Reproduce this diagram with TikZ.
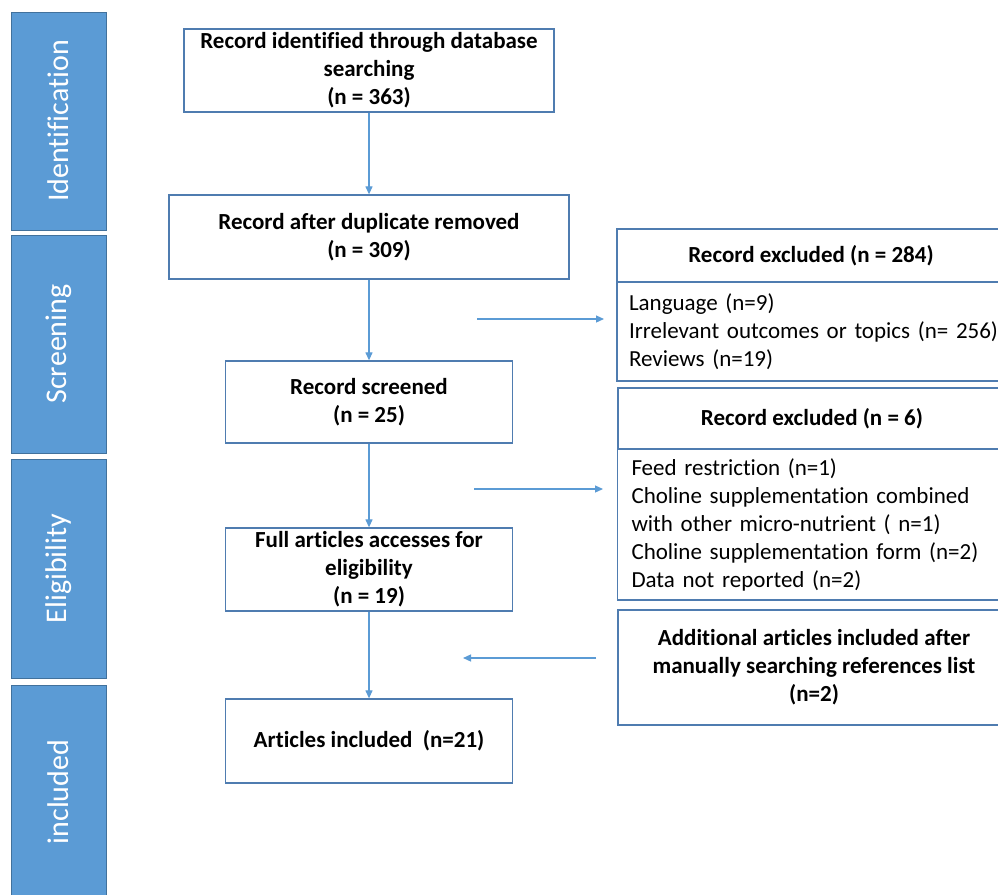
\documentclass[tikz,border=0pt]{standalone}
\usepackage{fontspec}
\setmainfont{Carlito}[RawFeature={-liga,-calt,-dlig,-clig}]
\usetikzlibrary{arrows.meta}
\definecolor{barblue}{HTML}{5B9BD5}
\definecolor{bardark}{HTML}{41719C}
\definecolor{boxline}{HTML}{4F7CB0}
\definecolor{arrowblue}{HTML}{5B9BD5}
\begin{document}
\begin{tikzpicture}[x=1pt,y=-1pt,
  phase/.style={draw=bardark, line width=0.8pt, fill=barblue},
  phaselabel/.style={text=white, font=\fontsize{30}{36}\selectfont, rotate=90, inner sep=0pt},
  flowbox/.style={draw=boxline, line width=1.3pt, align=center, font=\bfseries\fontsize{23}{28}\selectfont, inner sep=0pt},
  listbox/.style={draw=boxline, line width=1.3pt, align=left, font=\fontsize{23}{28}\selectfont, inner ysep=0pt},
  conn/.style={draw=arrowblue, line width=1.2pt, -{Triangle[length=8pt,width=7pt]}}
]
\useasboundingbox (0,0) rectangle (998,894);
\clip (0,0) rectangle (998,894);
\fill[white] (0,0) rectangle (998,894);

% phase bars
\path[phase] (11,12) rectangle (106,230);
\node[phaselabel] (lid) at (58.5,121) {Identification};
\path[phase] (11,235) rectangle (106,453);
\node[phaselabel] (lsc) at (58.5,344) {Screening};
\path[phase] (11,459) rectangle (106,678);
\node[phaselabel] (lel) at (58.5,568.5) {Eligibility};
\path[phase] (11,685) rectangle (106,900);
\node[phaselabel] (lin) at (58.5,792) {included};

% main flow
\node[flowbox, minimum width=370pt, minimum height=83pt] (b1) at (369,70.5)
  {Record identified through database\\searching\\(n = 363)};
\node[flowbox, minimum width=400pt, minimum height=84pt] (b2) at (369,237)
  {Record after duplicate removed\\(n = 309)};
\node[flowbox, minimum width=287pt, minimum height=82pt] (b3) at (369,402)
  {Record screened\\(n = 25)};
\node[flowbox, minimum width=287pt, minimum height=83pt] (b4) at (369,569.5)
  {Full articles accesses for\\eligibility\\(n = 19)};
\node[flowbox, minimum width=287pt, minimum height=84pt] (b5) at (369,741)
  {Articles included\ \ (n=21)};

% right side
\node[flowbox, minimum width=388pt, minimum height=53pt] (h1) at (811,255.5)
  {Record excluded (n = 284)};
\node[listbox, inner xsep=12pt, text width=379pt, minimum height=99pt] (l1) at (818.5,331.5)
  {Language (n=9)\\Irrelevant outcomes or topics (n= 256)\\Reviews (n=19)};
\node[flowbox, minimum width=388pt, minimum height=61pt] (h2) at (812,418.5)
  {Record excluded (n = 6)};
\node[listbox, inner xsep=14pt, text width=375pt, minimum height=151pt] (l2) at (819,524.5)
  {Feed restriction (n=1)\\Choline supplementation combined\\with other micro-nutrient ( n=1)\\Choline supplementation form (n=2)\\Data not reported (n=2)};
\node[flowbox, minimum width=392pt, minimum height=115pt] (ad) at (814,667.5)
  {Additional articles included after\\manually searching references list\\(n=2)};

% vertical connectors
\draw[conn] (b1.south) -- (b2.north);
\draw[conn] (b2.south) -- (b3.north);
\draw[conn] (b3.south) -- (b4.north);
\draw[conn] (b4.south) -- (b5.north);

% horizontal connectors
\coordinate (e1s) at (477,319);
\coordinate (e1e) at (604,319);
\coordinate (e2s) at (474,489);
\coordinate (e2e) at (603,489);
\coordinate (e3s) at (596,658);
\coordinate (e3e) at (463,658);
\draw[conn] (e1s) -- (e1e);
\draw[conn] (e2s) -- (e2e);
\draw[conn] (e3s) -- (e3e);
\end{tikzpicture}
\end{document}
